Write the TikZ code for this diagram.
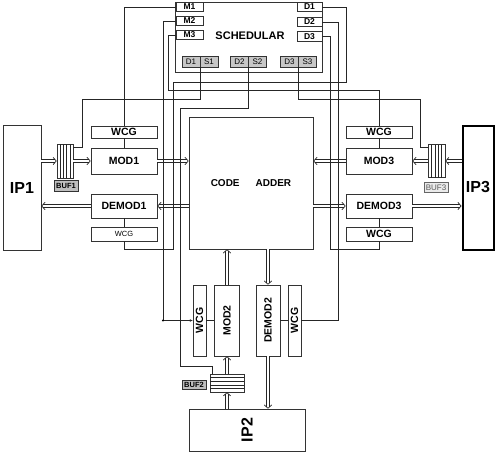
\documentclass[tikz,border=0pt]{standalone}
\usepackage{fontspec}
\setmainfont{Liberation Sans}
\usetikzlibrary{arrows.meta}
\begin{document}
\begin{tikzpicture}[x=1pt,y=1pt,
  box/.style={draw=black!80, line width=0.7pt, inner sep=0pt, font=\bfseries\fontsize{10.5}{12}\selectfont},
  wire/.style={draw=black!85, line width=0.5pt},
  dbl/.style={draw=black!85, line width=4pt, shorten >=1.5pt,
    postaction={draw=white, line width=2pt, shorten >=0pt,
      -{Straight Barb[color=black!85, line width=0.7pt, length=3.2pt, width=7.5pt]}}},
  lbl/.style={draw=black!80, fill=black!25, line width=0.5pt, inner sep=0pt, font=\bfseries\fontsize{7.5}{8}\selectfont},
  ds/.style={draw=black!80, fill=black!22, line width=0.5pt, inner sep=0pt, minimum width=18pt, minimum height=11pt, font=\fontsize{8}{9}\selectfont},
  port/.style={draw=black!80, line width=0.6pt, inner sep=0pt, minimum height=9.5pt, font=\bfseries\fontsize{8.5}{9}\selectfont},
]
\useasboundingbox (0,0) rectangle (496,-455);
% schedular
\node[box, minimum width=147pt, minimum height=70pt] (sched) at (248.5,-37) {};
\node[font=\bfseries\fontsize{11}{12}\selectfont] (schedtxt) at (250,-36) {SCHEDULAR};
\node[port, minimum width=27pt] (m1) at (189.5,-7) {M1};
\node[port, minimum width=27pt] (m2) at (189.5,-21) {M2};
\node[port, minimum width=27pt] (m3) at (189.5,-35) {M3};
\node[port, minimum width=25pt] (d1) at (309.5,-7) {D1};
\node[port, minimum width=25pt] (d2) at (309.5,-22) {D2};
\node[port, minimum width=25pt] (d3) at (309.5,-36.5) {D3};
\node[ds] (dd1) at (191,-61.5) {D1};
\node[ds] (ss1) at (209,-61.5) {S1};
\node[ds] (dd2) at (239.5,-61.5) {D2};
\node[ds] (ss2) at (257.5,-61.5) {S2};
\node[ds] (dd3) at (289.5,-61.5) {D3};
\node[ds] (ss3) at (307.5,-61.5) {S3};
% IPs
\node[box, minimum width=38pt, minimum height=125pt, font=\bfseries\fontsize{16}{18}\selectfont] (ip1) at (22,-187.5) {IP1};
\node[box, draw=black, line width=2pt, minimum width=31pt, minimum height=124pt, font=\bfseries\fontsize{16}{18}\selectfont] (ip3) at (478,-187.5) {IP3};
\node[box, minimum width=116pt, minimum height=42pt, font=\bfseries\fontsize{16}{18}\selectfont] (ip2) at (247,-430) {\rotatebox{90}{IP2}};
% buffers
\node[box, line width=0.6pt, minimum width=16pt, minimum height=34pt] (buf1) at (65,-161) {};
\foreach \i in {1,...,4} \draw[wire] (57+3.2*\i,-144) -- (57+3.2*\i,-178);
\node[lbl, minimum width=24pt, minimum height=11pt] (buf1l) at (66,-185.5) {BUF1};
\node[box, line width=0.6pt, minimum width=17pt, minimum height=33pt] (buf3) at (436.5,-161) {};
\foreach \i in {1,...,4} \draw[wire] (428+3.4*\i,-144.5) -- (428+3.4*\i,-177.5);
\node[lbl, fill=black!8, draw=black!60, text=black!65, font=\fontsize{8}{8}\selectfont, minimum width=24pt, minimum height=10pt] (buf3l) at (436,-187.5) {BUF3};
\node[box, line width=0.6pt, minimum width=34pt, minimum height=18pt] (buf2) at (227,-383) {};
\foreach \i in {1,...,4} \draw[wire] (210,-374-3.6*\i) -- (244,-374-3.6*\i);
\node[lbl, minimum width=24pt, minimum height=9.5pt] (buf2l) at (194,-384.5) {BUF2};
% left modules
\node[box, minimum width=66pt, minimum height=12pt] (wcg1) at (124,-132) {WCG};
\node[box, minimum width=66pt, minimum height=26pt] (mod1) at (124,-161) {MOD1};
\node[box, minimum width=66pt, minimum height=24pt] (demod1) at (124,-206) {DEMOD1};
\node[box, minimum width=66pt, minimum height=14pt, font=\fontsize{7.5}{8}\selectfont] (wcg1b) at (124,-234) {WCG};
% right modules
\node[box, minimum width=66pt, minimum height=12pt] (wcg3) at (379,-132) {WCG};
\node[box, minimum width=66pt, minimum height=26pt] (mod3) at (379,-161) {MOD3};
\node[box, minimum width=66pt, minimum height=24pt] (demod3) at (379,-206) {DEMOD3};
\node[box, minimum width=66pt, minimum height=14pt] (wcg3b) at (379,-234) {WCG};
% adder
\node[box, minimum width=124pt, minimum height=132pt, font=\bfseries\fontsize{10}{12}\selectfont] (adder) at (251,-183) {CODE\hspace{16pt}ADDER};
% bottom modules
\node[box, minimum width=13pt, minimum height=71pt] (wcg2) at (199.5,-320.5) {\rotatebox{90}{WCG}};
\node[box, minimum width=25pt, minimum height=71pt] (mod2) at (227,-320.5) {\rotatebox{90}{MOD2}};
\node[box, minimum width=24pt, minimum height=71pt] (demod2) at (268,-320.5) {\rotatebox{90}{DEMOD2}};
\node[box, minimum width=13pt, minimum height=71pt] (wcg2b) at (294.5,-320.5) {\rotatebox{90}{WCG}};
% double arrows
\draw[dbl] (ip1.east |- buf1.west) -- (buf1.west);
\draw[dbl] (buf1.east |- mod1.west) -- (mod1.west);
\draw[dbl] (mod1.east) -- (mod1.east -| adder.west);
\draw[dbl] (adder.west |- demod1.east) -- (demod1.east);
\draw[dbl] (demod1.west) -- (demod1.west -| ip1.east);
\draw[dbl] (ip3.west |- buf3.east) -- (buf3.east);
\draw[dbl] (buf3.west |- mod3.east) -- (mod3.east);
\draw[dbl] (mod3.west) -- (mod3.west -| adder.east);
\draw[dbl] (adder.east |- demod3.west) -- (demod3.west);
\draw[dbl] (demod3.east) -- (demod3.east -| ip3.west);
\draw[dbl] (mod2.north) -- (mod2.north |- adder.south);
\draw[dbl] (buf2.south |- ip2.north) -- (buf2.south);
\draw[dbl] (buf2.north) -- (buf2.north |- mod2.south);
\draw[dbl] (demod2.north |- adder.south) -- (demod2.north);
\draw[dbl] (demod2.south) -- (demod2.south |- ip2.north);
% control wires
\coordinate (c1) at (163,-320.5);
\coordinate (b1in) at (73,-147.5);
\coordinate (b3in) at (428,-147.5);
\coordinate (b2in) at (212,-374);
\draw[wire] (m1.west) -| (wcg1.north);
\draw[wire] (wcg1.south) -- (mod1.north);
\draw[wire, -{Stealth[length=3pt,width=2.5pt]}] (m2.west) -| (c1) -- (wcg2.west);
\fill (c1) circle (1.2pt);
\draw[wire] (wcg2.east) -- (mod2.west);
\draw[wire] (m3.west) -| (168,-90) -| (wcg3.north);
\draw[wire] (wcg3.south) -- (mod3.north);
\draw[wire] (d1.east) -| (346,-82) -| (173,-249) -| (wcg1b.south);
\draw[wire] (demod1.south) -- (wcg1b.north);
\draw[wire] (d2.east) -| (338,-320.5) -- (wcg2b.east);
\draw[wire] (demod2.east) -- (wcg2b.west);
\draw[wire] (d3.east) -| (330,-249) -| (wcg3b.south);
\draw[wire] (demod3.south) -- (wcg3b.north);
\draw[wire] (ss1.south west) |- (82,-99) |- (b1in);
\draw[wire] (ss2.south west) |- (180,-108) |- (212,-366) -- (b2in);
\draw[wire] (ss3.south west) |- (420,-99) |- (b3in);
\end{tikzpicture}
\end{document}
